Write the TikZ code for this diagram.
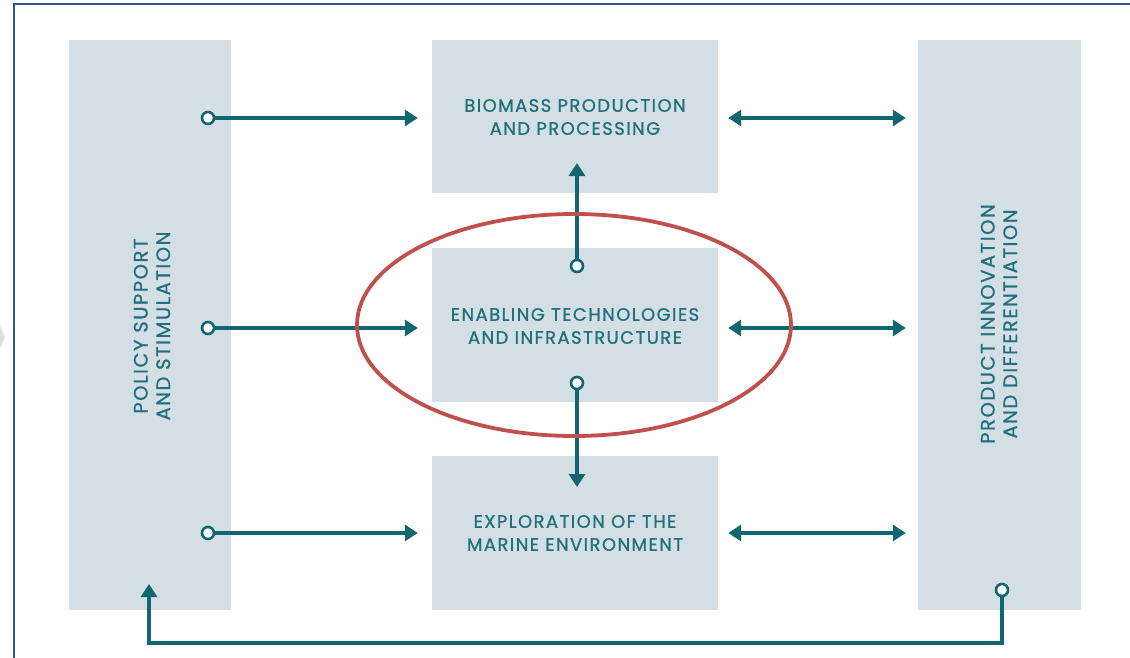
\documentclass[tikz,border=0pt]{standalone}
\usepackage{fontspec}
\setmainfont[LetterSpace=8, FakeBold=0.9]{Poppins}
\usetikzlibrary{arrows.meta}
\definecolor{boxfill}{HTML}{D3DFE4}
\definecolor{tealtxt}{HTML}{22707A}
\definecolor{tealln}{HTML}{12666F}
\definecolor{frameblue}{HTML}{2F5597}
\definecolor{redring}{HTML}{C0504D}
\begin{document}
\begin{tikzpicture}[x=1pt,y=-1pt,
  box/.style={fill=boxfill, draw=none, inner sep=0pt},
  lbl/.style={text=tealtxt, font=\fontsize{18}{23}\selectfont, align=center, inner sep=0pt},
  sidelbl/.style={lbl, rotate=90, font=\fontsize{19.5}{22.5}\selectfont},
  conn/.style={draw=tealln, line width=3.5pt, -{Triangle[length=13pt,width=16pt]}},
  dconn/.style={draw=tealln, line width=3.5pt, {Triangle[length=13pt,width=16pt]}-{Triangle[length=13pt,width=16pt]}},
  dot/.style={circle, draw=tealln, line width=2.6pt, fill=white, minimum size=12pt, inner sep=0pt},
  ring/.style={draw=redring, line width=3.8pt}
]
\useasboundingbox (0,0) rectangle (1130,658);
\fill[white] (0,0) rectangle (1130,658);
\fill[gray!25] (0,326) -- (5,337) -- (0,348) -- cycle;
\draw[frameblue, line width=2.2pt] (14,660) -- (14,4) -- (1132,4);

% boxes
\node[box, minimum width=162pt, minimum height=570pt] (policy) at (150,325) {};
\node[box, minimum width=163pt, minimum height=570pt] (prod) at (999.5,325) {};
\node[box, minimum width=286pt, minimum height=153pt] (bio) at (575,116.5) {};
\node[box, minimum width=286pt, minimum height=154pt] (enab) at (575,325) {};
\node[box, minimum width=286pt, minimum height=154pt] (expl) at (575,533) {};

% labels
\node[lbl] (biot) at (575,117) {BIOMASS PRODUCTION\\AND PROCESSING};
\node[lbl] (enabt) at (575,326) {ENABLING TECHNOLOGIES\\AND INFRASTRUCTURE};
\node[lbl] (explt) at (575,533) {EXPLORATION OF THE\\MARINE ENVIRONMENT};
\node[sidelbl] (policyt) at (152,326) {POLICY SUPPORT\\AND STIMULATION};
\node[sidelbl] (prodt) at (999,324) {PRODUCT INNOVATION\\AND DIFFERENTIATION};

% rows
\coordinate (r1) at (0,118);
\coordinate (r2) at (0,328);
\coordinate (r3) at (0,533);

% double arrows to product
\draw[dconn, shorten <=10pt, shorten >=12pt] (bio.east |- r1) -- (prod.west |- r1);
\draw[dconn, shorten <=10pt, shorten >=12pt] (enab.east |- r2) -- (prod.west |- r2);
\draw[dconn, shorten <=10pt, shorten >=12pt] (expl.east |- r3) -- (prod.west |- r3);

% policy arrows
\node[dot] (d1) at (208,118) {};
\node[dot] (d2) at (208,328) {};
\node[dot] (d3) at (208,533) {};
\draw[conn, shorten >=14pt] (d1) -- (d1 -| bio.west);
\draw[conn, shorten >=14pt] (d2) -- (d2 -| enab.west);
\draw[conn, shorten >=14pt] (d3) -- (d3 -| expl.west);

% vertical arrows
\node[dot] (d4) at (577,266) {};
\node[dot] (d5) at (577,383) {};
\coordinate (upTip) at (577,163);
\coordinate (dnTip) at (577,487);
\draw[conn] (d4) -- (upTip);
\draw[conn] (d5) -- (dnTip);

% bottom loop
\node[dot] (d6) at (1002,590) {};
\coordinate (loopTip) at (149,584);
\coordinate (loopCorner) at (1002,643);
\draw[conn] (d6) -- (loopCorner) -| (loopTip);

% red ellipse
\draw[ring] (574,325) ellipse [x radius=217pt, y radius=111pt];
\end{tikzpicture}
\end{document}
